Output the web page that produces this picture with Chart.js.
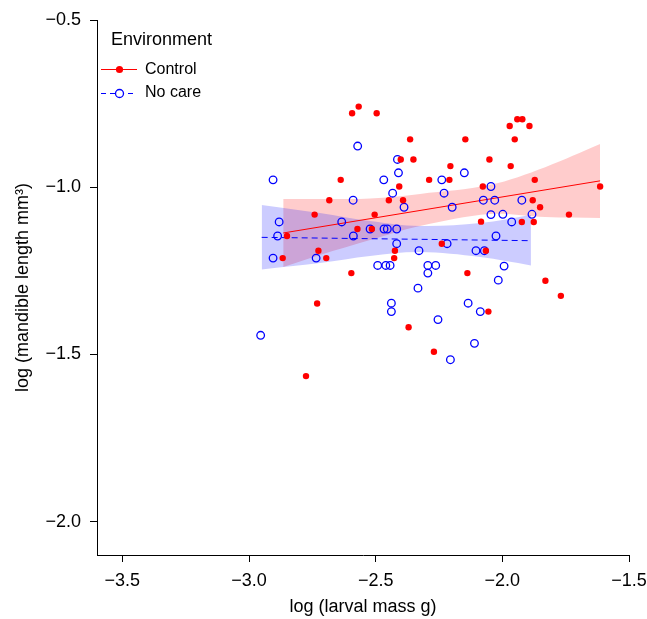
<!DOCTYPE html>
<html>
<head>
<meta charset="utf-8">
<script src="https://cdn.jsdelivr.net/npm/chart.js@4.4.1/dist/chart.umd.min.js"></script>
<style>
  html, body { margin: 0; padding: 0; background: #fff; }
  #wrap { width: 647px; height: 619px; }
</style>
</head>
<body>
<div id="wrap"><canvas id="chart" width="647" height="619"></canvas></div>
<script>
// log larval mass (x) / log mandible length (y)
const controlX = [-2.567, -2.593, -2.496, -2.364, -2.146, -2.401, -2.351, -2.051, -2.205, -2.289,
  -2.209, -2.638, -2.407, -2.077, -2.683, -2.448, -2.392, -2.741, -2.504, -2.084,
  -1.941, -1.921, -1.971, -1.893, -1.951, -1.967, -1.872, -1.614, -1.880, -1.851,
  -1.737, -1.923, -1.876, -2.850, -2.515, -2.572, -2.726, -2.867, -2.695, -2.596,
  -2.731, -2.775, -2.239, -2.424, -2.065, -2.427, -2.138, -2.055, -2.370, -2.270,
  -1.830, -1.769];
const controlY = [-0.759, -0.779, -0.779, -0.857, -0.857, -0.917, -0.917, -0.917, -0.937, -0.978,
  -0.978, -0.978, -0.998, -0.998, -1.039, -1.039, -1.039, -1.082, -1.082, -1.103,
  -0.797, -0.797, -0.817, -0.817, -0.857, -0.937, -0.978, -0.998, -1.039, -1.060,
  -1.082, -1.104, -1.104, -1.146, -1.125, -1.125, -1.190, -1.212, -1.212, -1.257,
  -1.348, -1.565, -1.169, -1.190, -1.190, -1.212, -1.257, -1.372, -1.419, -1.492,
  -1.280, -1.325];

const noCareX = [-2.571, -2.905, -2.589, -2.414, -2.410, -2.150, -2.468, -2.239, -2.045, -2.433,
  -2.230, -2.075, -2.030, -2.388, -2.198, -2.045, -1.923, -1.998, -1.883, -1.963,
  -2.881, -2.634, -2.887, -2.588, -2.522, -2.467, -2.454, -2.417, -2.905, -2.735,
  -2.492, -2.460, -2.443, -2.954, -2.025, -2.417, -2.218, -2.329, -2.104, -2.071,
  -2.294, -2.263, -2.294, -2.016, -2.333, -2.438, -2.135, -2.438, -2.087, -2.254,
  -2.110, -2.205, -1.993];
const noCareY = [-0.877, -0.978, -1.039, -0.917, -0.957, -0.957, -0.978, -0.978, -0.998, -1.018,
  -1.018, -1.039, -1.039, -1.060, -1.060, -1.082, -1.039, -1.081, -1.081, -1.104,
  -1.104, -1.104, -1.146, -1.146, -1.125, -1.125, -1.125, -1.125, -1.212, -1.212,
  -1.234, -1.234, -1.234, -1.443, -1.146, -1.169, -1.169, -1.190, -1.190, -1.190,
  -1.234, -1.234, -1.257, -1.278, -1.302, -1.347, -1.347, -1.372, -1.372, -1.396,
  -1.467, -1.516, -1.236];

// fitted lines
const controlFitX = [-2.865, -1.614];
const controlFitY = [-1.137, -0.981];
const noCareFitX = [-2.950, -1.887];
const noCareFitY = [-1.150, -1.160];

// confidence bands
const controlBandX = [-2.865, -2.720, -2.522, -2.325, -2.049, -1.831, -1.614];
const controlBandUpper = [-1.035, -1.035, -1.034, -1.020, -0.993, -0.940, -0.871];
const controlBandLower = [-1.239, -1.203, -1.158, -1.116, -1.080, -1.089, -1.092];
const noCareBandX = [-2.950, -2.720, -2.522, -2.325, -2.088, -1.887];
const noCareBandUpper = [-1.053, -1.077, -1.101, -1.116, -1.107, -1.083];
const noCareBandLower = [-1.246, -1.227, -1.206, -1.194, -1.209, -1.234];

const xTicks = [-3.5, -3.0, -2.5, -2.0, -1.5];
const yTicks = [-2.0, -1.5, -1.0, -0.5];

const FONT = "'Liberation Sans', Arial, Helvetica, sans-serif";
const RED = '#ff0000';
const BLUE = '#0000ff';

function pts(xs, ys) {
  return xs.map((x, i) => ({ x: x, y: ys[i] }));
}

function fmt(v) {
  return Number(v).toFixed(1).replace('-', '\u2212');
}

// legend drawn by hand, top left of the plot
const legendPlugin = {
  id: 'envLegend',
  afterDraw(chart) {
    const ctx = chart.ctx;
    ctx.save();
    ctx.fillStyle = '#000';
    ctx.textBaseline = 'middle';
    ctx.textAlign = 'left';
    ctx.font = '18px ' + FONT;
    ctx.fillText('Environment', 111, 40);

    // Control
    ctx.strokeStyle = RED;
    ctx.lineWidth = 1;
    ctx.beginPath();
    ctx.moveTo(101, 69.5);
    ctx.lineTo(137, 69.5);
    ctx.stroke();
    ctx.fillStyle = RED;
    ctx.beginPath();
    ctx.arc(119.5, 69.5, 3.6, 0, Math.PI * 2);
    ctx.fill();

    // No care
    ctx.strokeStyle = BLUE;
    ctx.setLineDash([5, 4]);
    ctx.beginPath();
    ctx.moveTo(101, 93.5);
    ctx.lineTo(137, 93.5);
    ctx.stroke();
    ctx.setLineDash([]);
    ctx.fillStyle = '#fff';
    ctx.lineWidth = 1.3;
    ctx.beginPath();
    ctx.arc(119.5, 93.5, 4, 0, Math.PI * 2);
    ctx.fill();
    ctx.stroke();

    ctx.fillStyle = '#000';
    ctx.font = '16px ' + FONT;
    ctx.fillText('Control', 145, 70);
    ctx.fillText('No care', 145, 93);
    ctx.restore();
  }
};

const ctx = document.getElementById('chart').getContext('2d');
new Chart(ctx, {
  type: 'line',
  data: {
    datasets: [
      {
        label: 'Control',
        data: pts(controlX, controlY),
        showLine: false,
        pointRadius: 3.2,
        pointBackgroundColor: RED,
        pointBorderWidth: 0,
        order: 0
      },
      {
        label: 'No care',
        data: pts(noCareX, noCareY),
        showLine: false,
        pointRadius: 3.8,
        pointBackgroundColor: 'rgba(0,0,0,0)',
        pointBorderColor: BLUE,
        pointBorderWidth: 1.3,
        order: 0
      },
      {
        label: 'Control fit',
        data: pts(controlFitX, controlFitY),
        borderColor: RED,
        borderWidth: 1,
        pointRadius: 0,
        fill: false,
        order: 1
      },
      {
        label: 'No care fit',
        data: pts(noCareFitX, noCareFitY),
        borderColor: BLUE,
        borderWidth: 1,
        borderDash: [6, 4],
        pointRadius: 0,
        fill: false,
        order: 1
      },
      {
        label: 'Control band upper',
        data: pts(controlBandX, controlBandUpper),
        borderWidth: 0,
        borderColor: 'rgba(0,0,0,0)',
        backgroundColor: 'rgba(255,0,0,0.2)',
        pointRadius: 0,
        tension: 0.35,
        fill: '+1',
        order: 3
      },
      {
        label: 'Control band lower',
        data: pts(controlBandX, controlBandLower),
        borderWidth: 0,
        borderColor: 'rgba(0,0,0,0)',
        pointRadius: 0,
        tension: 0.35,
        fill: false,
        order: 3
      },
      {
        label: 'No care band upper',
        data: pts(noCareBandX, noCareBandUpper),
        borderWidth: 0,
        borderColor: 'rgba(0,0,0,0)',
        backgroundColor: 'rgba(0,0,255,0.2)',
        pointRadius: 0,
        tension: 0.35,
        fill: '+1',
        order: 2
      },
      {
        label: 'No care band lower',
        data: pts(noCareBandX, noCareBandLower),
        borderWidth: 0,
        borderColor: 'rgba(0,0,0,0)',
        pointRadius: 0,
        tension: 0.35,
        fill: false,
        order: 2
      }
    ]
  },
  options: {
    responsive: false,
    devicePixelRatio: 1,
    animation: false,
    layout: { padding: { top: 20, right: 18, left: 0, bottom: 0 } },
    plugins: {
      legend: { display: false },
      tooltip: { enabled: false }
    },
    scales: {
      x: {
        type: 'linear',
        min: -3.6,
        max: -1.5,
        afterBuildTicks: s => { s.ticks = xTicks.map(v => ({ value: v })); },
        afterFit: s => { s.height = 64; s.paddingLeft = 0; s.paddingRight = 0; },
        border: { display: true, color: '#000', width: 1 },
        grid: { drawOnChartArea: false, drawTicks: true, tickLength: 7, color: '#000' },
        ticks: {
          color: '#000',
          padding: 8,
          maxRotation: 0,
          font: { size: 18, family: FONT },
          callback: v => fmt(v)
        },
        title: {
          display: true,
          text: 'log (larval mass g)',
          color: '#000',
          font: { size: 18, family: FONT },
          padding: { top: 2, bottom: 1 }
        }
      },
      y: {
        type: 'linear',
        min: -2.1,
        max: -0.5,
        afterBuildTicks: s => { s.ticks = yTicks.map(v => ({ value: v })); },
        afterFit: s => { s.width = 97; s.paddingTop = 0; s.paddingBottom = 0; },
        border: { display: true, color: '#000', width: 1 },
        grid: { drawOnChartArea: false, drawTicks: true, tickLength: 7, color: '#000' },
        ticks: {
          color: '#000',
          padding: 9,
          font: { size: 18, family: FONT },
          callback: v => fmt(v)
        },
        title: {
          display: true,
          text: 'log (mandible length mm\u00b3)',
          color: '#000',
          font: { size: 18, family: FONT },
          padding: { top: 12, bottom: 0 }
        }
      }
    }
  },
  plugins: [legendPlugin]
});
</script>
</body>
</html>
